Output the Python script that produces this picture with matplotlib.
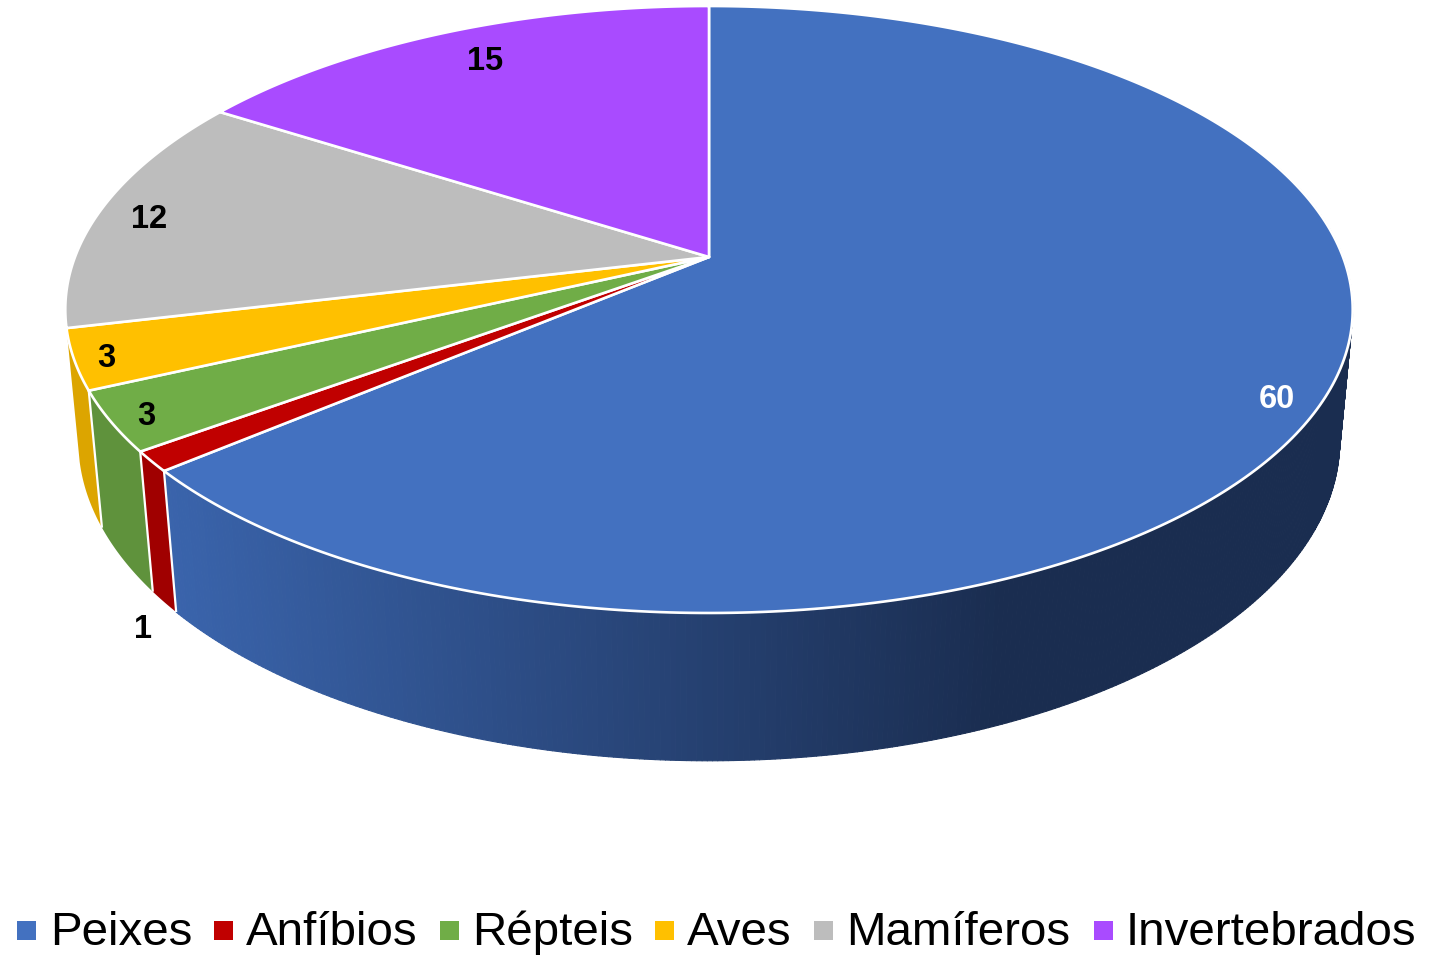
import numpy as np
import matplotlib
matplotlib.use("Agg")
import matplotlib.pyplot as plt
from matplotlib.patches import Polygon, Rectangle
from matplotlib.collections import PolyCollection

categories = ["Peixes", "Anfíbios", "Répteis", "Aves", "Mamíferos", "Invertebrados"]
values = [60, 1, 3, 3, 12, 15]
top_colors = ["#4371C0", "#C00000", "#70AD47", "#FFC000", "#BDBDBD", "#A94BFF"]
side_colors = ["#3860A6", "#A00000", "#5F923C", "#DCA500", "#A3A3A3", "#8F40D8"]
label_colors = ["white", "black", "black", "black", "black", "black"]

# Label anchors (px)
label_xy = [(1277, 399), (143, 629), (146, 416), (106, 358), (149, 219), (485, 61)]
# Legend layout (px): swatch left, text left
legend_sw = [17, 214, 440, 655, 814, 1094]
legend_tx = [50, 246, 472, 687, 846, 1126]

W, H = 1439, 955
CX = 709
TOP = dict(A=634.0, B=294.4, k=0.173, c=257.0)
BOT = dict(A=621.6, B=310.7, k=0.169, c=386.9)


def proj(t, g):
    u, v = np.sin(t), np.cos(t)
    w = 1 + g["k"] * v
    return CX + g["A"] * u / w, g["c"] - g["B"] * v / w


fig = plt.figure(figsize=(W / 100, H / 100), dpi=100)
ax = fig.add_axes([0, 0, 1, 1])
ax.set_xlim(0, W)
ax.set_ylim(H, 0)
ax.axis("off")

cum = np.concatenate([[0], np.cumsum(values)]) / np.sum(values) * 2 * np.pi
FONT = "Liberation Sans"


def side_strip_color(xm):
    c0 = np.array([0x3A, 0x64, 0xAC]) / 255
    c1 = np.array([0x1A, 0x2D, 0x50]) / 255
    f = np.clip((xm - 170) / (1000 - 170), 0, 1)
    return tuple(c0 + (c1 - c0) * f)


# Sides of the visible slices
ts = np.linspace(np.radians(70), cum[1], 400)
polys, cols = [], []
for a, b in zip(ts[:-1], ts[1:]):
    xa, ya = proj(a, TOP)
    xb, yb = proj(b, TOP)
    xc, yc = proj(b, BOT)
    xd, yd = proj(a, BOT)
    polys.append([(xa, ya), (xb, yb), (xc, yc), (xd, yd)])
    cols.append(side_strip_color((xa + xd) / 2))
ax.add_collection(PolyCollection(polys, facecolors=cols, edgecolors=cols, linewidths=0.8, zorder=1))

for i in [1, 2, 3]:
    t = np.linspace(cum[i], cum[i + 1], 40)
    x1, y1 = proj(t, TOP)
    x2, y2 = proj(t, BOT)
    pts = np.column_stack([np.r_[x1, x2[::-1]], np.r_[y1, y2[::-1]]])
    ax.add_patch(Polygon(pts, closed=True, facecolor=side_colors[i], edgecolor="none", zorder=2))

# Vertical dividers
for i in [1, 2, 3]:
    x1, y1 = proj(cum[i], TOP)
    x2, y2 = proj(cum[i], BOT)
    ax.plot([x1, x2], [y1, y2], color="white", lw=1.6, zorder=3, solid_capstyle="butt")

# Top faces
for i in range(len(values)):
    t = np.linspace(cum[i], cum[i + 1], 300)
    x, y = proj(t, TOP)
    pts = np.column_stack([np.r_[CX, x], np.r_[TOP["c"], y]])
    ax.add_patch(Polygon(pts, closed=True, facecolor=top_colors[i], edgecolor="white",
                         linewidth=1.9, joinstyle="round", zorder=4))

# Data labels
for val, (lx, ly), col in zip(values, label_xy, label_colors):
    ax.text(lx, ly, str(val), color=col, fontsize=23.5, fontweight="bold", family=FONT,
            ha="center", va="center", zorder=6)

# Legend
for name, col, sx, tx in zip(categories, top_colors, legend_sw, legend_tx):
    ax.add_patch(Rectangle((sx, 921), 19, 19, facecolor=col, edgecolor="none", zorder=6))
    ax.text(tx, 945, name, color="black", fontsize=34.2, family=FONT, ha="left",
            va="baseline", zorder=6)

fig.savefig("out.png", dpi=100, facecolor="white")
